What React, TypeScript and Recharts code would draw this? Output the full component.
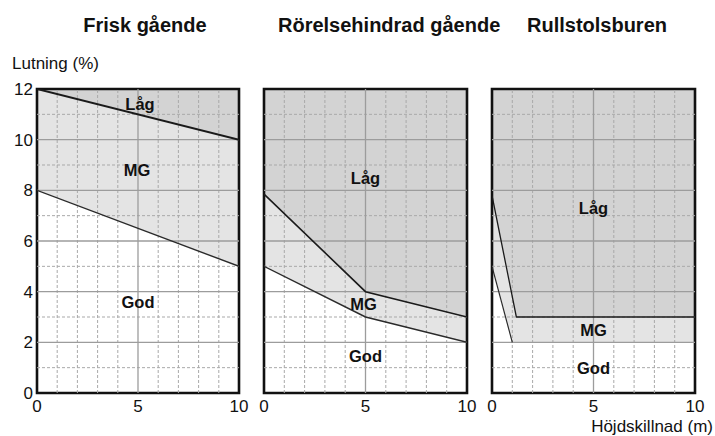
import React from 'react';
import {
  ComposedChart,
  Area,
  Line,
  XAxis,
  YAxis,
  ReferenceArea,
  ReferenceLine,
  ReferenceDot,
} from 'recharts';

// ---- data ----
const titles = ['Frisk gående', 'Rörelsehindrad gående', 'Rullstolsburen'];
const yAxisTitle = 'Lutning (%)';
const xAxisTitle = 'Höjdskillnad (m)';
const xTicks = [0, 5, 10];
const yTicks = [0, 2, 4, 6, 8, 10, 12];
const majorX = [5];
const minorX = [1, 2, 3, 4, 6, 7, 8, 9];
const majorY = [2, 4, 6, 8, 10];
const minorY = [1, 3, 5, 7, 9, 11];

const friskUpper = [
  { x: 0, y: 12 },
  { x: 10, y: 10 },
];
const friskLower = [
  { x: 0, y: 8 },
  { x: 10, y: 5 },
];
const rorelseUpper = [
  { x: 0, y: 7.85 },
  { x: 5, y: 4 },
  { x: 10, y: 3 },
];
const rorelseLower = [
  { x: 0, y: 5 },
  { x: 5, y: 3 },
  { x: 10, y: 2 },
];
const rullUpper = [
  { x: 0, y: 7.8 },
  { x: 1.2, y: 3 },
  { x: 10, y: 3 },
];
const rullLower = [
  { x: 0, y: 5 },
  { x: 1, y: 2 },
  { x: 10, y: 2 },
];
// drawn part of the lower boundary in the wheelchair panel
const rullLowerEdge = [
  { x: 0, y: 5 },
  { x: 1, y: 2 },
];

const friskLabels = [
  { x: 5.1, y: 11.4, text: 'Låg' },
  { x: 4.95, y: 8.8, text: 'MG' },
  { x: 5, y: 3.6, text: 'God' },
];
const rorelseLabels = [
  { x: 5, y: 8.5, text: 'Låg' },
  { x: 4.9, y: 3.5, text: 'MG' },
  { x: 5, y: 1.45, text: 'God' },
];
const rullLabels = [
  { x: 5, y: 7.3, text: 'Låg' },
  { x: 5, y: 2.5, text: 'MG' },
  { x: 5, y: 1.0, text: 'God' },
];

// ---- styles ----
const FONT = '"Liberation Sans", Arial, Helvetica, sans-serif';
const DARK = '#d3d3d3';
const LIGHT = '#e4e4e4';
const MAJOR = '#9c9c9c';
const MINOR = '#a9a9a9';

type Pt = { x: number; y: number };
type Lbl = { x: number; y: number; text: string };

interface PanelProps {
  left: number;
  width: number;
  margin: { top: number; right: number; bottom: number; left: number };
  upper: Pt[];
  lower: Pt[];
  lowerEdge: Pt[];
  labels: Lbl[];
  showY: boolean;
  upperWidth: number;
  lowerWidth: number;
}

function Panel(p: PanelProps) {
  return (
    <div style={{ position: 'absolute', left: p.left, top: 0 }}>
      <ComposedChart width={p.width} height={436} margin={p.margin}>
        <XAxis
          type="number"
          dataKey="x"
          domain={[0, 10]}
          ticks={xTicks}
          interval={0}
          allowDataOverflow
          axisLine={false}
          tickLine={false}
          tickSize={4}
          tickMargin={3}
          height={30}
          tick={{ fill: '#111', fontSize: 17, fontFamily: FONT }}
        />
        <YAxis
          type="number"
          domain={[0, 12]}
          ticks={yTicks}
          interval={0}
          allowDataOverflow
          axisLine={false}
          tickLine={false}
          tickSize={2}
          tickMargin={2}
          width={p.showY ? 37 : 0}
          hide={!p.showY}
          tick={{ fill: '#111', fontSize: 17, fontFamily: FONT }}
        />
        <ReferenceArea x1={0} x2={10} y1={0} y2={12} fill={DARK} fillOpacity={1} stroke="none" />
        <Area
          data={p.upper}
          dataKey="y"
          type="linear"
          baseValue={0}
          fill={LIGHT}
          fillOpacity={1}
          stroke="none"
          isAnimationActive={false}
        />
        <Area
          data={p.lower}
          dataKey="y"
          type="linear"
          baseValue={0}
          fill="#ffffff"
          fillOpacity={1}
          stroke="none"
          isAnimationActive={false}
        />
        {minorX.map((v) => (
          <ReferenceLine key={'mx' + v} x={v} stroke={MINOR} strokeWidth={1} strokeDasharray="3 2" />
        ))}
        {minorY.map((v) => (
          <ReferenceLine key={'my' + v} y={v} stroke={MINOR} strokeWidth={1} strokeDasharray="3 2" />
        ))}
        {majorX.map((v) => (
          <ReferenceLine key={'Mx' + v} x={v} stroke={MAJOR} strokeWidth={1.3} />
        ))}
        {majorY.map((v) => (
          <ReferenceLine key={'My' + v} y={v} stroke={MAJOR} strokeWidth={1.3} />
        ))}
        <Line
          data={p.upper}
          dataKey="y"
          type="linear"
          stroke="#1a1a1a"
          strokeWidth={p.upperWidth}
          dot={false}
          activeDot={false}
          isAnimationActive={false}
        />
        <Line
          data={p.lowerEdge}
          dataKey="y"
          type="linear"
          stroke="#2a2a2a"
          strokeWidth={p.lowerWidth}
          dot={false}
          activeDot={false}
          isAnimationActive={false}
        />
        <ReferenceArea x1={0} x2={10} y1={0} y2={12} fill="none" stroke="#111" strokeWidth={2.6} />
        {p.labels.map((l) => (
          <ReferenceDot
            key={l.text}
            x={l.x}
            y={l.y}
            r={0}
            fill="none"
            stroke="none"
            label={{
              value: l.text,
              position: 'center',
              fill: '#111',
              fontSize: 16.5,
              fontWeight: 700,
              fontFamily: FONT,
            }}
          />
        ))}
      </ComposedChart>
    </div>
  );
}

const titleStyle: React.CSSProperties = {
  position: 'absolute',
  top: 15,
  fontFamily: FONT,
  fontWeight: 700,
  fontSize: 20,
  lineHeight: '20px',
  color: '#111',
  textAlign: 'center',
  whiteSpace: 'nowrap',
};

export default function App() {
  return (
    <div
      style={{
        position: 'absolute',
        left: 0,
        top: 0,
        width: 715,
        height: 436,
        background: '#fff',
        overflow: 'hidden',
      }}
    >
      <Panel
        left={0}
        width={250}
        margin={{ top: 89, right: 11, bottom: 13, left: 0 }}
        upper={friskUpper}
        lower={friskLower}
        lowerEdge={friskLower}
        labels={friskLabels}
        showY
        upperWidth={2}
        lowerWidth={1.4}
      />
      <Panel
        left={250}
        width={230}
        margin={{ top: 89, right: 13, bottom: 13, left: 14 }}
        upper={rorelseUpper}
        lower={rorelseLower}
        lowerEdge={rorelseLower}
        labels={rorelseLabels}
        showY={false}
        upperWidth={1.6}
        lowerWidth={1.4}
      />
      <Panel
        left={480}
        width={235}
        margin={{ top: 89, right: 20, bottom: 13, left: 12 }}
        upper={rullUpper}
        lower={rullLower}
        lowerEdge={rullLowerEdge}
        labels={rullLabels}
        showY={false}
        upperWidth={1.3}
        lowerWidth={1.2}
      />
      <div style={{ ...titleStyle, left: 45, width: 200 }}>{titles[0]}</div>
      <div style={{ ...titleStyle, left: 278, width: 200 }}>{titles[1]}</div>
      <div style={{ ...titleStyle, left: 497, width: 200 }}>{titles[2]}</div>
      <div
        style={{
          position: 'absolute',
          left: 12,
          top: 55,
          fontFamily: FONT,
          fontSize: 17,
          lineHeight: '17px',
          color: '#111',
          whiteSpace: 'nowrap',
        }}
      >
        {yAxisTitle}
      </div>
      <div
        style={{
          position: 'absolute',
          right: 2,
          top: 418,
          fontFamily: FONT,
          fontSize: 17,
          lineHeight: '17px',
          color: '#111',
          whiteSpace: 'nowrap',
        }}
      >
        {xAxisTitle}
      </div>
    </div>
  );
}
